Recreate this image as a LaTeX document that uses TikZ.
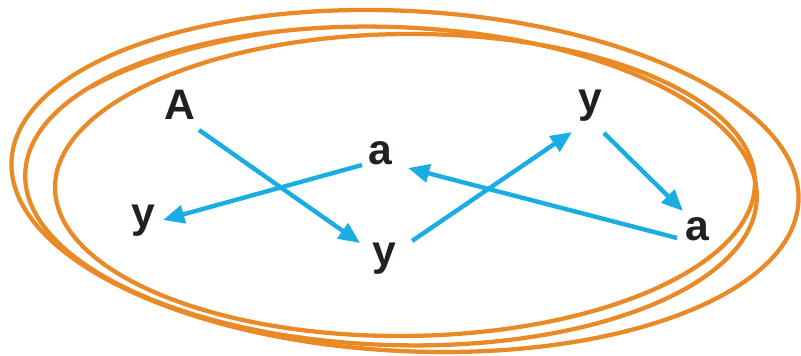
\documentclass[tikz,border=0pt]{standalone}
\usepackage{fontspec}
\setmainfont{Liberation Sans}
\usetikzlibrary{arrows.meta}
\definecolor{loopor}{RGB}{234,138,38}
\definecolor{arrblue}{RGB}{26,173,228}
\definecolor{txt}{RGB}{35,31,32}
\begin{document}
\begin{tikzpicture}[x=0.75pt,y=-0.75pt,
  loopline/.style={draw=loopor,line width=3.2pt},
  lbl/.style={anchor=base,inner sep=0pt,text=txt,font=\fontsize{32}{32}\selectfont\bfseries},
  arr/.style={draw=arrblue,line width=3.3pt,-{Triangle[length=16pt,width=13.5pt]}}]
\useasboundingbox (0,0) rectangle (801,356);
\fill[white] (0,0) rectangle (801,356);
% hand-drawn loops
\draw[loopline] (405,181) ellipse [x radius=295.5pt, y radius=127.5pt, rotate=-3];
\draw[loopline] (391,186) ellipse [x radius=274.5pt, y radius=119.25pt, rotate=-2];
\draw[loopline] (405,185) ellipse [x radius=262.5pt, y radius=113.25pt, rotate=0.5];
\draw[draw=loopor,line width=1.2pt] (92,88) .. controls (150,55) and (250,32) .. (340,26);
% letters
\node[lbl] (A)  at (180,120) {A};
\node[lbl] (am) at (380,165) {a};
\node[lbl] (yl) at (143,228) {y};
\node[lbl] (ym) at (384,266) {y};
\node[lbl] (yt) at (590,113) {y};
\node[lbl] (ar) at (697,241) {a};
% arrows
\draw[arr] ([shift={(19,10)}]A.base) -- ([shift={(-24,-23)}]ym.base);
\draw[arr] ([shift={(-18,0)}]am.base) -- ([shift={(20,-8)}]yl.base);
\draw[arr] ([shift={(28,-25)}]ym.base) -- ([shift={(-18,19)}]yt.base);
\draw[arr] ([shift={(-20,-3)}]ar.base) -- ([shift={(28,3)}]am.base);
\draw[arr] ([shift={(14,20)}]yt.base) -- ([shift={(-14,-30)}]ar.base);
\end{tikzpicture}
\end{document}
